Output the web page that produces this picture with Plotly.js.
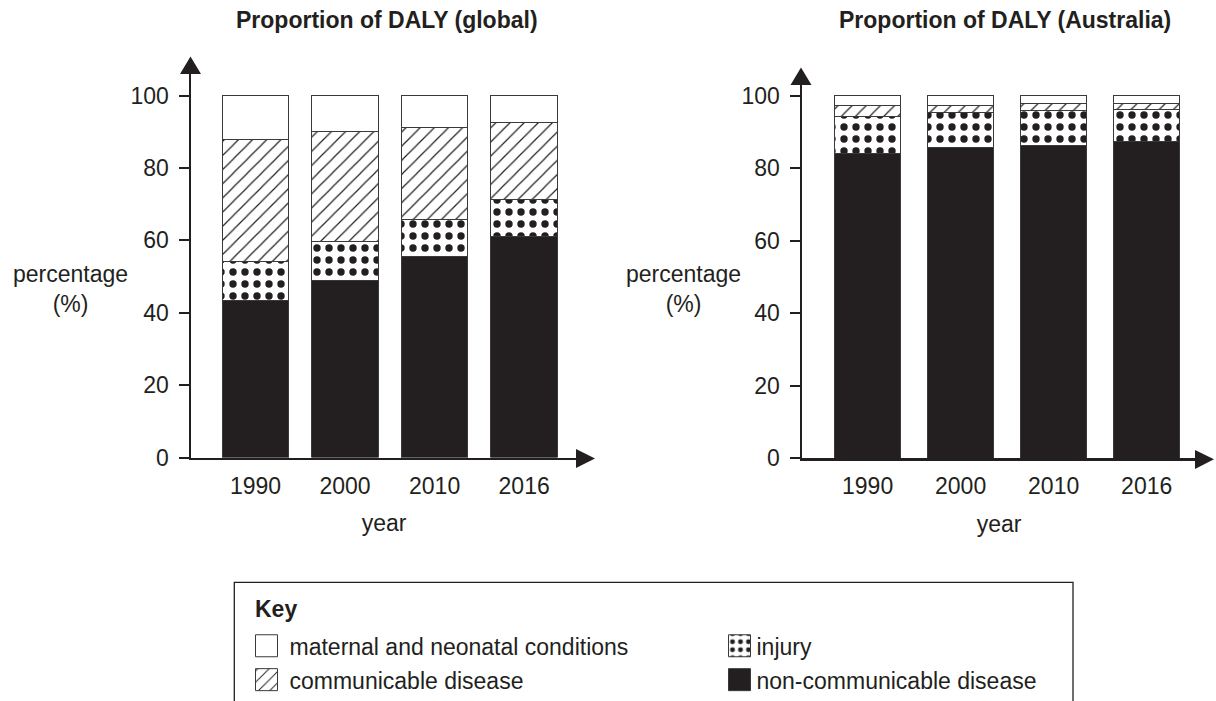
<!DOCTYPE html>
<html>
<head>
<meta charset="utf-8">
<script src="https://cdn.plot.ly/plotly-3.0.1.min.js"></script>
<style>
html,body{margin:0;padding:0;background:#fff;}
#chart{width:1216px;height:701px;}
</style>
</head>
<body>
<div id="chart"></div>
<script>
// ---------- data ----------
const years = ['1990', '2000', '2010', '2016'];
const yTickValues = [0, 20, 40, 60, 80, 100];

const seriesNames = ['non-communicable disease', 'injury', 'communicable disease', 'maternal and neonatal conditions'];

const globalNonCommunicable = [43.5, 48.9, 55.5, 61.1];
const globalInjury = [10.8, 10.8, 10.2, 10.3];
const globalCommunicable = [33.7, 30.5, 25.6, 21.1];
const globalMaternal = [12.0, 9.8, 8.7, 7.5];

const ausNonCommunicable = [84.1, 85.8, 86.3, 87.3];
const ausInjury = [10.3, 9.5, 9.5, 9.0];
const ausCommunicable = [2.9, 2.0, 2.1, 1.6];
const ausMaternal = [2.7, 2.7, 2.1, 2.1];

const titleGlobal = 'Proportion of DALY (global)';
const titleAus = 'Proportion of DALY (Australia)';
const yLabel = 'percentage<br>(%)';
const xLabel = 'year';
const keyTitle = 'Key';

// ---------- styling ----------
const W = 1216, H = 701;
const INK = '#231f20';
const FONT = 'Liberation Sans, Arial, Helvetica, sans-serif';
const FS = 23;
const px = v => v / W;
const py = v => 1 - v / H;

const outline = {color: '#3a3a3a', width: 1};
const markerStyles = [
  {color: INK, line: outline},
  {color: '#ffffff', line: outline,
   pattern: {shape: '.', fgcolor: INK, bgcolor: '#ffffff', size: 12, solidity: 0.3}},
  {color: '#ffffff', line: outline,
   pattern: {shape: '/', fgcolor: INK, bgcolor: '#ffffff', size: 10, solidity: 0.12}},
  {color: '#ffffff', line: outline}
];
// key placement: column (legend id) and order within the key
const legendOf = ['legend2', 'legend2', 'legend', 'legend'];
const keyRank = [4, 3, 2, 1];

const globalSeries = [globalNonCommunicable, globalInjury, globalCommunicable, globalMaternal];
const ausSeries = [ausNonCommunicable, ausInjury, ausCommunicable, ausMaternal];

const traces = [];
globalSeries.forEach((vals, i) => {
  traces.push({
    type: 'bar', x: years, y: vals, name: seriesNames[i],
    xaxis: 'x', yaxis: 'y', width: 0.744,
    marker: markerStyles[i], legend: legendOf[i], legendgroup: 'g' + i,
    legendrank: keyRank[i], showlegend: true,
    hoverinfo: 'skip'
  });
});
ausSeries.forEach((vals, i) => {
  traces.push({
    type: 'bar', x: years, y: vals, name: seriesNames[i],
    xaxis: 'x2', yaxis: 'y2', width: 0.708,
    marker: markerStyles[i], legendgroup: 'g' + i, showlegend: false,
    hoverinfo: 'skip'
  });
});

function tri(pts) {
  return 'M' + pts.map(p => px(p[0]).toFixed(5) + ',' + py(p[1]).toFixed(5)).join(' L') + ' Z';
}

const commonX = {
  type: 'category', showline: true, linecolor: INK, linewidth: 2.5,
  ticks: '', showgrid: false, zeroline: false, ticklabelstandoff: 6,
  tickfont: {size: FS, color: INK, family: FONT},
  title: {text: xLabel, font: {size: FS, color: INK, family: FONT}, standoff: 18},
  fixedrange: true
};
const commonY = {
  tickvals: yTickValues, ticks: 'outside', ticklen: 10, tickwidth: 2, tickcolor: INK,
  showline: true, linecolor: INK, linewidth: 2.5, showgrid: false, zeroline: false,
  ticklabelstandoff: 5,
  tickfont: {size: FS, color: INK, family: FONT}, fixedrange: true
};

const legendCommon = {
  yanchor: 'top', xanchor: 'left', orientation: 'v',
  traceorder: 'grouped', tracegroupgap: 1,
  bgcolor: 'rgba(0,0,0,0)', borderwidth: 0,
  font: {size: FS, color: INK, family: FONT},
  itemclick: false, itemdoubleclick: false
};

const layout = {
  width: W, height: H,
  margin: {l: 0, r: 0, t: 0, b: 0, autoexpand: false},
  paper_bgcolor: '#ffffff', plot_bgcolor: 'rgba(0,0,0,0)',
  barmode: 'stack',
  font: {family: FONT, size: FS, color: INK},
  showlegend: true,
  xaxis: Object.assign({}, commonX, {domain: [px(191), px(577)], range: [-0.72, 3.59], anchor: 'y'}),
  yaxis: Object.assign({}, commonY, {domain: [py(457.5), py(74)], range: [0, 106.0], anchor: 'x'}),
  xaxis2: Object.assign({}, commonX, {domain: [px(802), px(1196)], range: [-0.705, 3.53], anchor: 'y2'}),
  yaxis2: Object.assign({}, commonY, {domain: [py(458.3), py(85)], range: [0, 102.95], anchor: 'x2'}),
  legend: Object.assign({}, legendCommon, {x: px(249.5), y: py(624.3)}),
  legend2: Object.assign({}, legendCommon, {x: px(716.5), y: py(624.3)}),
  shapes: [
    // axis arrow heads
    {type: 'path', xref: 'paper', yref: 'paper', path: tri([[180, 74], [201, 74], [190.5, 56.5]]), fillcolor: INK, line: {width: 0}},
    {type: 'path', xref: 'paper', yref: 'paper', path: tri([[576, 449], [576, 468], [595, 458.5]]), fillcolor: INK, line: {width: 0}},
    {type: 'path', xref: 'paper', yref: 'paper', path: tri([[790.5, 85], [811.5, 85], [801, 67.5]]), fillcolor: INK, line: {width: 0}},
    {type: 'path', xref: 'paper', yref: 'paper', path: tri([[1195, 450], [1195, 469], [1214, 459.3]]), fillcolor: INK, line: {width: 0}},
    // key box (open at bottom edge of the page)
    {type: 'rect', xref: 'paper', yref: 'paper', x0: px(234.3), x1: px(1073), y0: py(740), y1: py(582.3),
     line: {color: INK, width: 1.3}, fillcolor: 'rgba(0,0,0,0)', layer: 'below'}
  ],
  annotations: [
    {text: '<b>' + titleGlobal + '</b>', xref: 'paper', yref: 'paper', x: px(387), y: py(20),
     xanchor: 'center', yanchor: 'middle', showarrow: false, font: {size: FS, color: INK, family: FONT}},
    {text: '<b>' + titleAus + '</b>', xref: 'paper', yref: 'paper', x: px(1005), y: py(20),
     xanchor: 'center', yanchor: 'middle', showarrow: false, font: {size: FS, color: INK, family: FONT}},
    {text: yLabel, xref: 'paper', yref: 'paper', x: px(70.5), y: py(289),
     xanchor: 'center', yanchor: 'middle', showarrow: false, font: {size: FS, color: INK, family: FONT}},
    {text: yLabel, xref: 'paper', yref: 'paper', x: px(683.5), y: py(289),
     xanchor: 'center', yanchor: 'middle', showarrow: false, font: {size: FS, color: INK, family: FONT}},
    {text: '<b>' + keyTitle + '</b>', xref: 'paper', yref: 'paper', x: px(253), y: py(609),
     xanchor: 'left', yanchor: 'middle', showarrow: false, font: {size: FS, color: INK, family: FONT}}
  ]
};

Plotly.newPlot('chart', traces, layout, {displayModeBar: false, staticPlot: true}).then(gd => {
  // enlarge key swatches to match the printed key
  gd.querySelectorAll('g.legend .legendpoints path').forEach(p => {
    p.setAttribute('d', 'M8,11H-14V-11H8Z');
  });
  gd.querySelectorAll('g.legend2 .legendpoints path').forEach(p => {
    p.setAttribute('d', 'M14,11H-8V-11H14Z');
  });
});
</script>
</body>
</html>
